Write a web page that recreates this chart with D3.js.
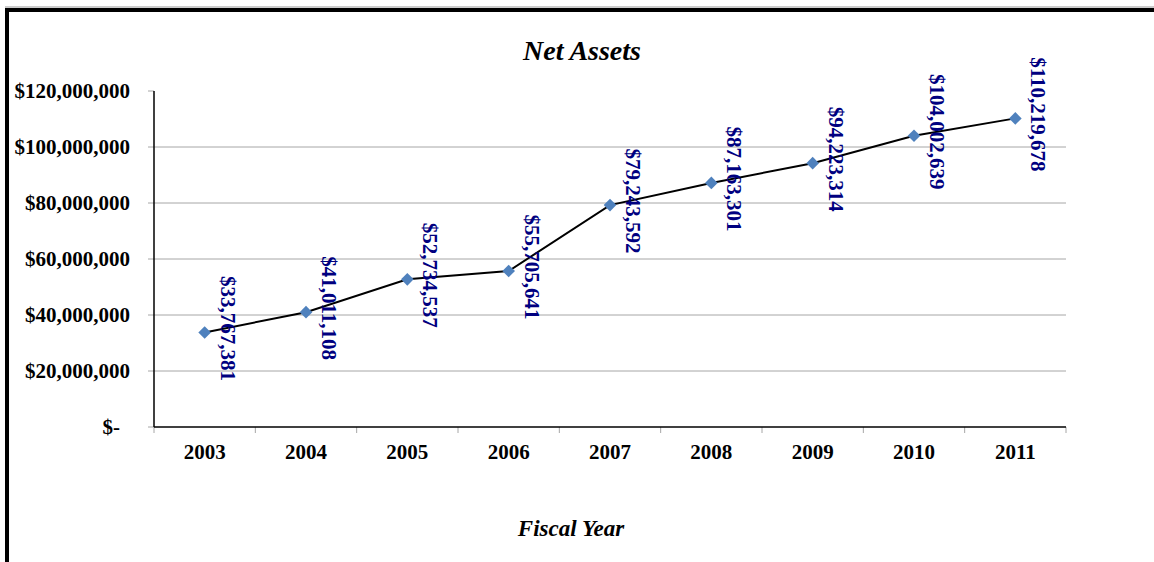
<!DOCTYPE html>
<html>
<head>
<meta charset="utf-8">
<script src="https://cdn.jsdelivr.net/npm/d3@7"></script>
<style>
  body { margin: 0; background: #fff; }
  svg text { font-family: "Liberation Serif", "Times New Roman", serif; font-weight: bold; }
</style>
</head>
<body>
<div id="chart"></div>
<script>
const width = 1154, height = 562;

// Data
const years = ['2003', '2004', '2005', '2006', '2007', '2008', '2009', '2010', '2011'];
const netAssets = [33767381, 41011108, 52734537, 55705641, 79243592, 87163301, 94223314, 104002639, 110219678];
const yTicks = [0, 20000000, 40000000, 60000000, 80000000, 100000000, 120000000];

const plot = { left: 154, right: 1066, top: 91, bottom: 427 };

const svg = d3.select('#chart')
    .append('svg')
    .attr('width', width)
    .attr('height', height);

// outer frame (only top and left edges visible)
svg.append('line').attr('x1', 5).attr('x2', width).attr('y1', 7).attr('y2', 7)
    .attr('stroke', '#999').attr('stroke-width', 1);
svg.append('path')
    .attr('d', `M7,${height}V10H${width}`)
    .attr('fill', 'none')
    .attr('stroke', '#000')
    .attr('stroke-width', 4);

const x = d3.scaleBand()
    .domain(years)
    .range([plot.left, plot.right]);

const y = d3.scaleLinear()
    .domain([0, 120000000])
    .range([plot.bottom, plot.top]);

// gridlines (no line at 0 or at the top)
svg.append('g')
    .selectAll('line')
    .data(yTicks.filter(d => d > 0 && d < 120000000))
    .enter().append('line')
    .attr('x1', plot.left).attr('x2', plot.right)
    .attr('y1', d => y(d)).attr('y2', d => y(d))
    .attr('stroke', '#a6a6a6')
    .attr('stroke-width', 1);

// y axis
const fmt = d3.format(',');
const yAxis = svg.append('g');
yAxis.selectAll('line.tick')
    .data(yTicks)
    .enter().append('line')
    .attr('class', 'tick')
    .attr('x1', plot.left - 6).attr('x2', plot.left)
    .attr('y1', d => y(d)).attr('y2', d => y(d))
    .attr('stroke', '#a6a6a6');
yAxis.selectAll('text')
    .data(yTicks)
    .enter().append('text')
    .attr('x', d => d === 0 ? 120 : 130)
    .attr('y', d => y(d) + 7)
    .attr('text-anchor', 'end')
    .attr('font-size', 21)
    .attr('fill', '#000')
    .text(d => d === 0 ? '$-' : '$' + fmt(d));
yAxis.append('line')
    .attr('x1', plot.left).attr('x2', plot.left)
    .attr('y1', plot.top).attr('y2', plot.bottom)
    .attr('stroke', '#000').attr('stroke-width', 1.5);

// x axis
const xAxis = svg.append('g');
const boundaries = years.map(d => x(d)).concat([x.range()[1]]);
xAxis.selectAll('line.tick')
    .data(boundaries)
    .enter().append('line')
    .attr('class', 'tick')
    .attr('x1', d => d).attr('x2', d => d)
    .attr('y1', plot.bottom).attr('y2', plot.bottom + 6)
    .attr('stroke', '#a6a6a6');
xAxis.append('line')
    .attr('x1', plot.left).attr('x2', plot.right)
    .attr('y1', plot.bottom).attr('y2', plot.bottom)
    .attr('stroke', '#000').attr('stroke-width', 1.5);
xAxis.selectAll('text')
    .data(years)
    .enter().append('text')
    .attr('x', d => x(d) + x.bandwidth() / 2)
    .attr('y', 459)
    .attr('text-anchor', 'middle')
    .attr('font-size', 21)
    .attr('fill', '#000')
    .text(d => d);

// line
const points = years.map((d, i) => ({ year: d, value: netAssets[i] }));
const cx = d => x(d.year) + x.bandwidth() / 2;

svg.append('path')
    .datum(points)
    .attr('d', d3.line().x(cx).y(d => y(d.value)))
    .attr('fill', 'none')
    .attr('stroke', '#000')
    .attr('stroke-width', 2);

// diamond markers
svg.append('g')
    .selectAll('path')
    .data(points)
    .enter().append('path')
    .attr('d', d3.symbol(d3.symbolSquare, 80))
    .attr('transform', d => `translate(${cx(d)},${y(d.value)}) rotate(45)`)
    .attr('fill', '#4f81bd');

// rotated data labels
svg.append('g')
    .selectAll('text')
    .data(points)
    .enter().append('text')
    .attr('transform', d => `translate(${cx(d) + 16},${y(d.value) - 4}) rotate(90)`)
    .attr('text-anchor', 'middle')
    .attr('font-size', 21)
    .attr('fill', '#000080')
    .text(d => '$' + fmt(d.value));

// titles
svg.append('text')
    .attr('x', 582).attr('y', 60)
    .attr('text-anchor', 'middle')
    .attr('font-size', 28)
    .attr('font-style', 'italic')
    .text('Net Assets');

svg.append('text')
    .attr('x', 571).attr('y', 536)
    .attr('text-anchor', 'middle')
    .attr('font-size', 23)
    .attr('font-style', 'italic')
    .text('Fiscal Year');
</script>
</body>
</html>
